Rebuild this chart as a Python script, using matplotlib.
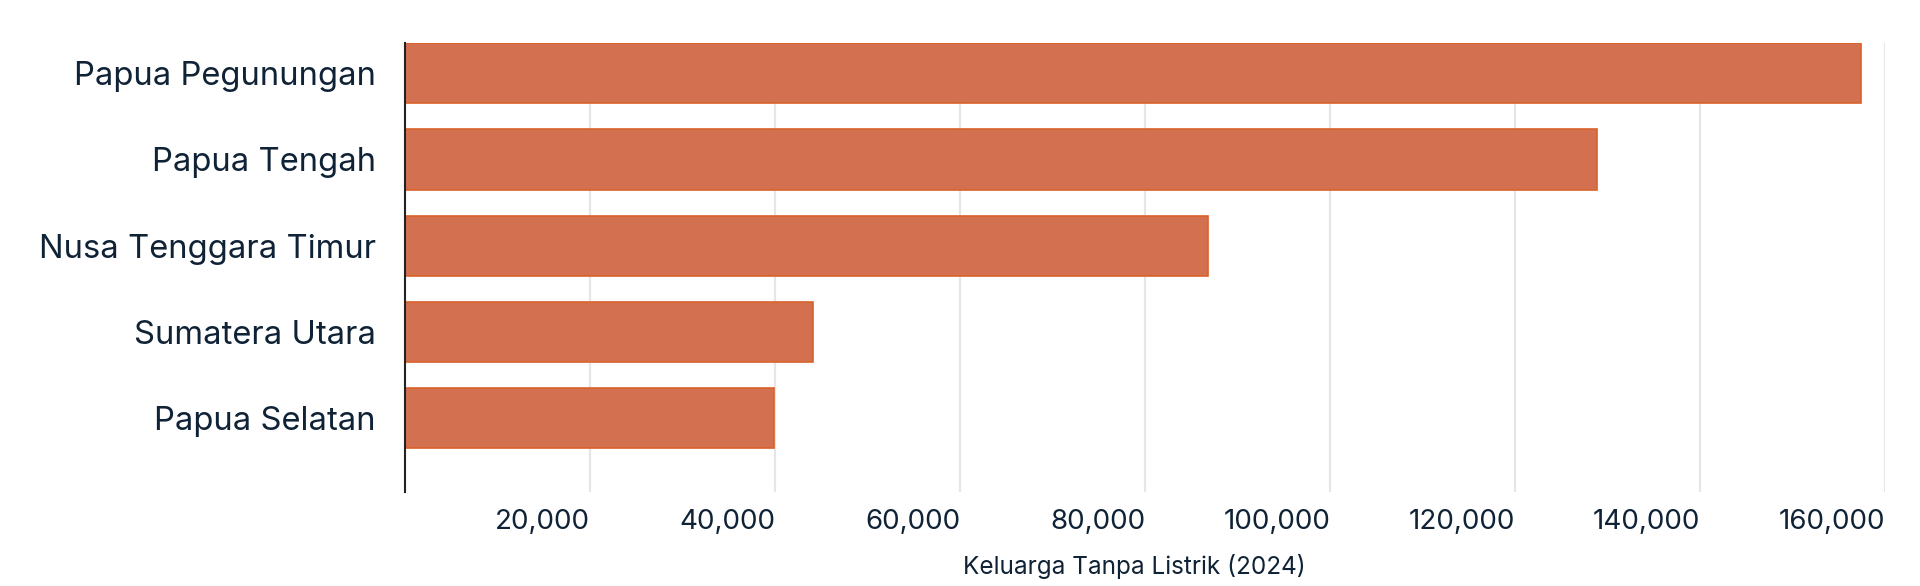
import matplotlib
matplotlib.use("Agg")
import matplotlib.pyplot as plt

categories = ["Papua Pegunungan", "Papua Tengah", "Nusa Tenggara Timur", "Sumatera Utara", "Papua Selatan"]
values = [157400, 128800, 86800, 44100, 39900]
xticks = [20000, 40000, 60000, 80000, 100000, 120000, 140000, 160000]
xtick_labels = ["20,000", "40,000", "60,000", "80,000", "100,000", "120,000", "140,000", "160,000"]
xlabel = "Keluarga Tanpa Listrik (2024)"

plt.rcParams['font.family'] = ['Inter', 'DejaVu Sans']
text_color = "#0f2236"

fig = plt.figure(figsize=(19.2, 5.86), dpi=100)
ax = fig.add_axes([405/1920, 1-492/586, (1885.3-405)/1920, (492-42.7)/586])

ypos = list(range(len(categories)))
ax.barh(ypos, values, height=0.7, color="#d2704f", edgecolor="#d9622b", linewidth=1.2, zorder=3)

ax.set_xlim(0, 160000)
ax.set_ylim(4.856, -0.354)
ax.set_yticks(ypos)
ax.set_yticklabels(categories, fontsize=23.6, color=text_color)
ax.set_xticks(xticks)
ax.set_xticklabels(xtick_labels, fontsize=20, color=text_color, ha="right")
ax.tick_params(axis="y", length=0, pad=21)
ax.tick_params(axis="x", length=0, pad=12)
ax.grid(axis="x", color="#e6e6ea", linewidth=1.6, zorder=0)
ax.set_axisbelow(True)
for s in ["top", "right", "bottom"]:
    ax.spines[s].set_visible(False)
ax.spines["left"].set_color("#222222")
ax.spines["left"].set_linewidth(1.5)
ax.spines["left"].set_zorder(4)
ax.set_xlabel(xlabel, fontsize=17.5, color=text_color)
ax.xaxis.set_label_coords(0.493, -0.165, transform=ax.transAxes)
ax.xaxis.label.set_va("center")

fig.savefig("out.png", dpi=100, facecolor="white")
